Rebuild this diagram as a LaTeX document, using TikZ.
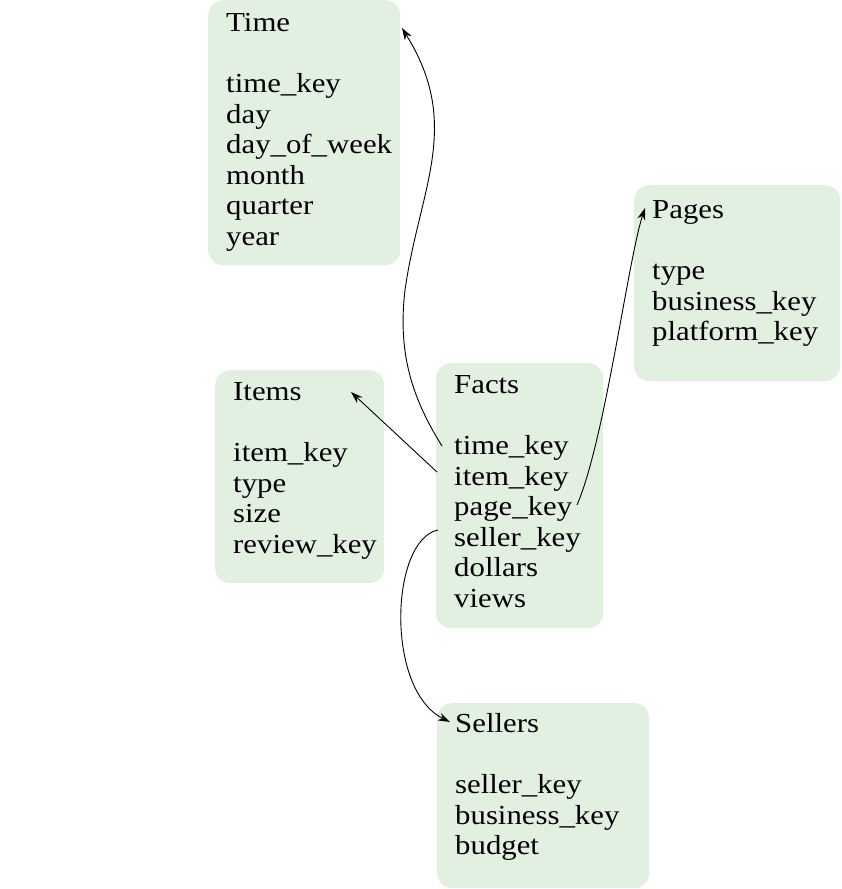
\documentclass[tikz,border=0pt]{standalone}
\usepackage{fontspec}
\setmainfont{Liberation Serif}[FakeStretch=1.12]
\usepackage{tikz}
\usetikzlibrary{arrows.meta, calc}
\definecolor{dim-green}{HTML}{E1F0E1}

\tikzset{
    dimtable/.style={fill=dim-green, rounded corners=15pt, anchor=north west, align=left,
        inner xsep=18pt, inner ysep=0pt, text height=31pt, font=\fontsize{27.5pt}{30.6pt}\selectfont},
    fkey/.style={-{Stealth[length=12pt,width=8pt]}, line width=0.9pt}
}

\begin{document}
\begin{tikzpicture}[x=1pt, y=-1pt]
    \useasboundingbox (0,0) rectangle (841,889);
    \node[dimtable, text width=156pt, text depth=234pt] (time) at (208,0)
        {Time\\[30.6pt]time\_key\\day\\day\_of\_week\\month\\quarter\\year};
    \node[dimtable, text width=170pt, text height=33pt, text depth=163pt] (pages) at (634,185)
        {Pages\\[30.6pt]type\\business\_key\\platform\_key};
    \node[dimtable, text width=133pt, text height=30pt, text depth=183pt] (items) at (215,370)
        {Items\\[30.6pt]item\_key\\type\\size\\review\_key};
    \node[dimtable, text width=131pt, text height=30pt, text depth=235pt] (facts) at (436,363)
        {Facts\\[30.6pt]time\_key\\item\_key\\page\_key\\seller\_key\\dollars\\views};
    \node[dimtable, text width=176pt, text height=29pt, text depth=156pt] (sellers) at (437,703)
        {Sellers\\[30.6pt]seller\_key\\business\_key\\budget};

    \coordinate (facts-time) at (442,446);
    \coordinate (facts-item) at (437,472);
    \coordinate (facts-page) at (577,505);
    \coordinate (facts-seller) at (438,530);
    \coordinate (time-in) at (402,28);
    \coordinate (items-in) at (351,392);
    \coordinate (pages-in) at (645,208);
    \coordinate (sellers-in) at (450,722);

    \draw[fkey] (facts-time) .. controls (410,395) and (398,350) .. (405,290)
        .. controls (415,220) and (438,170) .. (434,115)
        .. controls (431,75) and (413,46) .. (time-in);
    \draw[fkey] (facts-item) -- (items-in);
    \draw[fkey] (facts-page) .. controls (605,440) and (628,260) .. (pages-in);
    \draw[fkey] (facts-seller) .. controls (390,540) and (385,690) .. (sellers-in);
\end{tikzpicture}
\end{document}
